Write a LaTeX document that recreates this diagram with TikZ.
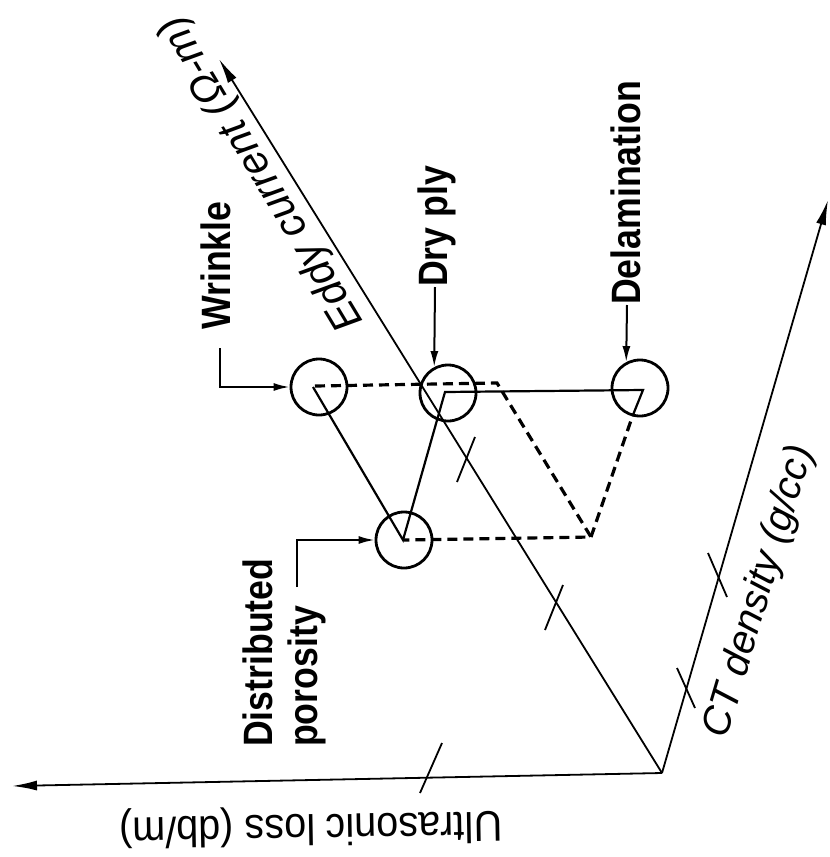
\documentclass[tikz,border=0pt]{standalone}
\usepackage{fontspec}
\setmainfont{Liberation Sans}
\newfontfamily\labfont[FakeStretch=0.87]{Liberation Sans}
\newfontfamily\axfont[FakeStretch=0.92]{Liberation Sans}
\usetikzlibrary{arrows.meta,calc}
\begin{document}
\begin{tikzpicture}[x=1pt,y=-1pt,
  axis/.style={line width=1.8pt,-{Latex[length=25pt,width=10pt]}},
  tickmark/.style={line width=1.8pt},
  defect/.style={circle,draw,line width=2.8pt,minimum size=56pt,inner sep=0pt},
  link/.style={line width=2.2pt,line join=miter},
  dashlink/.style={line width=3.2pt,dash pattern=on 10pt off 6pt},
  lead/.style={line width=2pt,-{Latex[length=16pt,width=8pt]}},
  lab/.style={font=\labfont\bfseries\fontsize{41}{45}\selectfont,rotate=90,inner sep=0pt},
  axlab/.style={font=\itshape\fontsize{40}{48}\selectfont,inner sep=0pt}]
\useasboundingbox (0,0) rectangle (830,857);

% axes
\coordinate (O) at (662,773);
\coordinate (UE) at (12,786);
\coordinate (EE) at (219,59);
\coordinate (CE) at (828,200);
\draw[axis] (O) -- (UE);
\draw[axis] (O) -- (EE);
\draw[axis] (O) -- (CE);

% ticks
\draw[tickmark] (442,743) -- (420,793);
\draw[tickmark] (475,437) -- (457,482);
\draw[tickmark] (563,585) -- (545,630);
\draw[tickmark] (677,668) -- (695,708);
\draw[tickmark] (708,553) -- (727,597);

% axis labels
\node[axlab,font=\itshape\fontsize{42}{48}\selectfont,rotate=121] (ec) at (262,173) {Eddy current (Ω-m)};
\node[axlab,rotate=73.5] (ct) at (760,592) {CT density (g/cc)};
\node[font=\axfont\fontsize{43}{50}\selectfont,inner sep=0pt,rotate=181] (ul) at (311,826) {Ultrasonic loss (db/m)};

% defect circles
\node[defect] (W) at (319,387) {};
\node[defect] (DP) at (448,393) {};
\node[defect] (DL) at (640,388) {};
\node[defect] (P) at (404,540) {};

% solid path
\draw[link] ($(W)+(-6,0)$) -- ($(P)+(-1,0)$) -- ($(DP)+(-3,-1)$) -- ($(DL)+(3,2)$) -- (DL.255);

% dashed path
\coordinate (c1) at (497,383);
\coordinate (c2) at (591,537);
\draw[dashlink] ($(W)+(-4,-1)$) -- (c1) -- (c2) -- (P.center);
\draw[dashlink] (c2) -- (DL.255);

% labels
\node[lab,anchor=base west] (lW) at (230,330) {Wrinkle};
\node[lab,anchor=base west] (lDP) at (447,287) {Dry ply};
\node[lab,anchor=base west] (lDL) at (640,305) {Delamination};
\node[lab,anchor=north west,align=left] (lP) at (243,747) {Distributed\\porosity};

% leaders
\coordinate (wl) at (220,348);
\coordinate (dpl) at (435,287);
\coordinate (dll) at (627,305);
\coordinate (pl) at (297,587);
\draw[lead] (wl) |- (W.west);
\draw[lead] (dpl) -- (DP.118);
\draw[lead] (dll) -- (DL.118);
\draw[lead] (pl) |- (P.west);
\end{tikzpicture}
\end{document}
